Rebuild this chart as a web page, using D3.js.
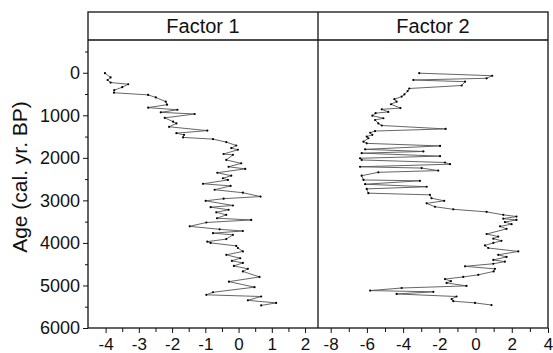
<!DOCTYPE html>
<html>
<head>
<meta charset="utf-8">
<script src="https://cdn.jsdelivr.net/npm/d3@7"></script>
<style>
  body { margin: 0; background: #fff; }
  svg { display: block; font-family: "Liberation Sans", Arial, sans-serif; }
</style>
</head>
<body>
<svg id="chart" width="553" height="353"></svg>
<script>
// Factor scores against age
const factor1Age = [10,110,170,230,270,340,410,470,520,580,680,750,820,870,930,970,1060,1150,1190,1270,
  1360,1420,1460,1520,1560,1630,1710,1770,1810,1910,1930,2050,2130,2210,2260,2350,2420,2480,2520,2610,
  2660,2750,2820,2910,2960,3010,3120,3160,3220,3280,3340,3420,3460,3520,3610,3680,3720,3770,3810,3910,
  3970,4000,4070,4120,4200,4280,4360,4420,4470,4540,4610,4670,4800,4910,5040,5160,5220,5260,5350,5410,5470];
const factor1Value = [-4.02,-3.85,-3.94,-3.85,-3.32,-3.50,-3.74,-3.75,-2.72,-2.49,-2.19,-2.15,-2.72,-1.84,-2.34,-1.32,-2.22,-1.97,-1.87,-2.09,
  -0.94,-1.87,-1.64,-1.67,-0.77,-0.37,-0.07,-0.22,-0.02,-0.45,-0.17,-0.37,0.08,-0.30,0.20,-0.64,-0.22,-0.47,-0.32,-1.07,
  -0.24,-0.72,0.13,0.66,-0.45,-0.99,-0.17,-0.84,-0.30,-0.67,-0.37,-0.65,0.38,-0.97,-1.47,-0.57,0.13,-0.77,-0.17,-0.37,
  -0.94,-0.84,-0.07,-0.02,0.13,-0.37,0.05,-0.20,0.13,-0.14,0.28,0.13,0.63,-0.29,0.48,-0.77,-0.97,0.68,0.28,1.13,0.68];

const factor2Age = [10,70,130,170,210,300,370,430,510,560,620,680,740,830,860,920,950,1010,1070,1110,
  1190,1240,1320,1370,1410,1460,1500,1540,1620,1660,1720,1800,1850,1890,1960,2010,2050,2110,2150,2210,
  2240,2300,2340,2420,2520,2540,2620,2680,2730,2830,2870,2950,3010,3070,3150,3210,3270,3340,3380,3430,
  3460,3510,3560,3610,3670,3790,3850,3900,3950,4000,4060,4120,4200,4280,4330,4400,4440,4490,4550,4610,
  4670,4750,4800,4850,4900,4940,5010,5060,5120,5150,5200,5260,5320,5370,5410,5460];
const factor2Value = [-3.11,0.92,0.61,-3.44,-0.58,-0.77,-3.66,-3.75,-3.93,-4.08,-4.48,-4.36,-4.67,-4.15,-5.18,-4.82,-5.52,-5.70,-5.09,-5.55,
  -5.37,-5.18,-1.65,-5.55,-5.82,-5.70,-6.01,-5.92,-6.19,-6.01,-1.96,-6.10,-2.88,-6.29,-1.96,-6.38,-6.29,-1.69,-1.41,-6.38,
  -2.98,-2.06,-5.37,-6.29,-6.19,-3.07,-6.10,-2.70,-6.01,-5.92,-2.52,-2.43,-1.73,-2.70,-2.24,-1.23,0.61,1.53,2.26,1.53,
  2.26,1.62,1.99,1.35,1.71,0.61,1.25,0.98,1.43,0.98,0.52,0.70,2.36,1.25,1.71,0.98,1.62,0.98,-0.58,1.07,
  1.00,0.15,-0.68,-1.69,-1.36,-1.60,-0.50,-4.08,-5.82,-2.33,-4.36,-1.05,-1.32,-1.23,-0.03,0.88];

const panelTitles = ["Factor 1", "Factor 2"];
const ageTicks = [0, 1000, 2000, 3000, 4000, 5000, 6000];
const ageMinorTicks = [-500, 500, 1500, 2500, 3500, 4500, 5500];
const f1Ticks = [-4, -3, -2, -1, 0, 1, 2];
const f1MinorTicks = [-3.5, -2.5, -1.5, -0.5, 0.5, 1.5];
const f2Ticks = [-8, -6, -4, -2, 0, 2, 4];
const f2MinorTicks = [-7, -5, -3, -1, 1, 3];

const frameLeft = 88, frameRight = 548, frameTop = 12, headerBottom = 40, frameBottom = 328;
const frameMid = (frameLeft + frameRight) / 2;

const svg = d3.select("#chart");

const y = d3.scaleLinear().domain([-770, 6000]).range([headerBottom, frameBottom]);

const panels = [
  { title: panelTitles[0], ages: factor1Age, values: factor1Value, ticks: f1Ticks, minor: f1MinorTicks,
    x: d3.scaleLinear().domain([-4.53, 2.39]).range([frameLeft, frameMid]) },
  { title: panelTitles[1], ages: factor2Age, values: factor2Value, ticks: f2Ticks, minor: f2MinorTicks,
    x: d3.scaleLinear().domain([-8.7, 4.0]).range([frameMid, frameRight]) }
];

// Y axis: major ticks with labels, minor ticks without
const yAxis = svg.append("g").attr("transform", "translate(" + frameLeft + ",0)");
yAxis.call(d3.axisLeft(y).tickValues(ageTicks).tickSize(5).tickSizeOuter(0).tickPadding(3)
  .tickFormat(d => String(d)));
yAxis.select(".domain").remove();
yAxis.selectAll("text").attr("font-size", 18).attr("fill", "#111")
  .attr("font-family", "Liberation Sans, Arial, sans-serif");
const yMinor = svg.append("g").attr("transform", "translate(" + frameLeft + ",0)");
yMinor.call(d3.axisLeft(y).tickValues(ageMinorTicks).tickSize(3).tickFormat(""));
yMinor.select(".domain").remove();
yMinor.selectAll("text").remove();
svg.selectAll(".tick line").attr("stroke", "#111");

svg.append("text")
  .attr("transform", "translate(27," + 177 + ") rotate(-90)")
  .attr("text-anchor", "middle")
  .attr("font-size", 21)
  .attr("fill", "#111")
  .text("Age (cal. yr. BP)");

panels.forEach(p => {
  const xa = svg.append("g").attr("transform", "translate(0," + frameBottom + ")");
  xa.call(d3.axisBottom(p.x).tickValues(p.ticks).tickSize(5).tickSizeOuter(0).tickPadding(5)
    .tickFormat(d => String(d)));
  xa.select(".domain").remove();
  xa.selectAll("text").attr("font-size", 17).attr("fill", "#111")
    .attr("font-family", "Liberation Sans, Arial, sans-serif");
  xa.selectAll("line").attr("stroke", "#111");

  const xm = svg.append("g").attr("transform", "translate(0," + frameBottom + ")");
  xm.call(d3.axisBottom(p.x).tickValues(p.minor).tickSize(4).tickFormat(""));
  xm.select(".domain").remove();
  xm.selectAll("text").remove();
  xm.selectAll("line").attr("stroke", "#111");

  const [x0, x1] = p.x.range();
  svg.append("text")
    .attr("x", (x0 + x1) / 2)
    .attr("y", 33)
    .attr("text-anchor", "middle")
    .attr("font-size", 20)
    .attr("fill", "#111")
    .text(p.title);

  const pts = p.ages.map((a, i) => ({ age: a, v: p.values[i] }));
  const line = d3.line().x(d => p.x(d.v)).y(d => y(d.age));
  svg.append("path")
    .datum(pts)
    .attr("d", line)
    .attr("fill", "none")
    .attr("stroke", "#555")
    .attr("stroke-width", 0.9);
  svg.append("g").selectAll("circle")
    .data(pts)
    .enter()
    .append("circle")
      .attr("cx", d => p.x(d.v))
      .attr("cy", d => y(d.age))
      .attr("r", 1.1)
      .attr("fill", "#000");
});

// Frame
svg.append("rect")
  .attr("x", frameLeft).attr("y", frameTop)
  .attr("width", frameRight - frameLeft).attr("height", frameBottom - frameTop)
  .attr("fill", "none").attr("stroke", "#111").attr("stroke-width", 1.3);
svg.append("line")
  .attr("x1", frameLeft).attr("x2", frameRight).attr("y1", headerBottom).attr("y2", headerBottom)
  .attr("stroke", "#111").attr("stroke-width", 1.3);
svg.append("line")
  .attr("x1", frameMid).attr("x2", frameMid).attr("y1", frameTop).attr("y2", frameBottom)
  .attr("stroke", "#111").attr("stroke-width", 1.3);
</script>
</body>
</html>
